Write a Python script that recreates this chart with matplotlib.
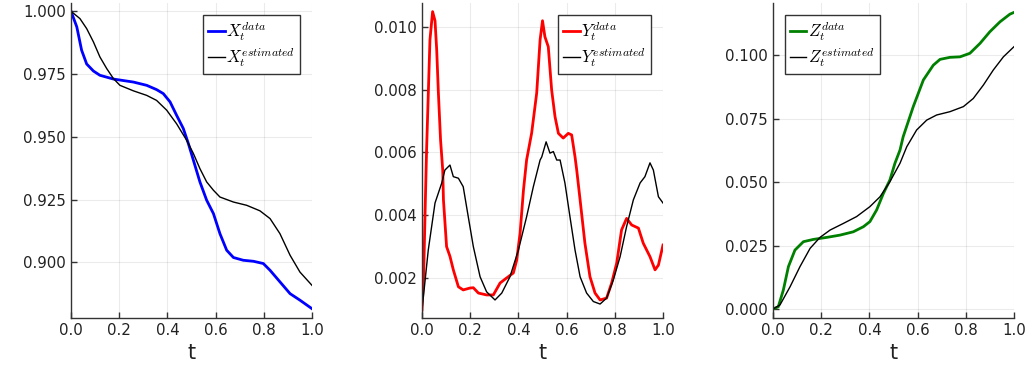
import matplotlib
matplotlib.use("Agg")
import matplotlib.pyplot as plt
from matplotlib.ticker import FormatStrFormatter

plt.rcParams["mathtext.fontset"] = "cm"

# X panel
x_t_data = [0.0, 0.024, 0.044, 0.065, 0.093, 0.12, 0.176, 0.259, 0.314, 0.355, 0.383,
            0.411, 0.438, 0.466, 0.487, 0.508, 0.535, 0.563, 0.591, 0.618, 0.646, 0.674,
            0.715, 0.757, 0.798, 0.826, 0.867, 0.909, 0.95, 1.0]
x_data = [1.0, 0.9938, 0.9845, 0.979, 0.9762, 0.9745, 0.973, 0.9718, 0.9705, 0.9688, 0.9672,
          0.9639, 0.9586, 0.9533, 0.9473, 0.9406, 0.932, 0.9247, 0.9194, 0.9114, 0.9048, 0.9019,
          0.9008, 0.9004, 0.8995, 0.8968, 0.8922, 0.8875, 0.8849, 0.8815]
x_t_est = [0.0, 0.037, 0.065, 0.093, 0.12, 0.148, 0.176, 0.203, 0.259, 0.314, 0.355, 0.397,
           0.438, 0.48, 0.508, 0.535, 0.563, 0.591, 0.618, 0.674, 0.729, 0.784, 0.826, 0.867,
           0.909, 0.95, 1.0]
x_est = [1.0, 0.9971, 0.9931, 0.9878, 0.9818, 0.9772, 0.9732, 0.9705, 0.9683, 0.9665, 0.9645,
         0.9606, 0.9552, 0.9486, 0.9433, 0.9373, 0.932, 0.9287, 0.926, 0.924, 0.9227, 0.9205,
         0.9174, 0.9114, 0.9028, 0.8961, 0.8908]

# Y panel
y_t_data = [0.0, 0.007, 0.014, 0.019, 0.033, 0.044, 0.054, 0.061, 0.068, 0.077, 0.086, 0.089,
            0.102, 0.116, 0.13, 0.151, 0.171, 0.199, 0.213, 0.234, 0.268, 0.296, 0.324, 0.351,
            0.379, 0.393, 0.407, 0.421, 0.434, 0.455, 0.476, 0.49, 0.5, 0.51, 0.524, 0.538,
            0.552, 0.566, 0.586, 0.607, 0.621, 0.635, 0.642, 0.656, 0.676, 0.697, 0.718, 0.739,
            0.766, 0.787, 0.808, 0.828, 0.849, 0.87, 0.898, 0.918, 0.946, 0.967, 0.981, 1.0]
y_data = [0.00098, 0.00214, 0.00448, 0.00608, 0.00959, 0.01049, 0.0102, 0.00927, 0.0079, 0.0064,
          0.00544, 0.00449, 0.003, 0.00269, 0.00226, 0.00172, 0.00162, 0.00168, 0.00169, 0.00152,
          0.00146, 0.00146, 0.00184, 0.002, 0.00216, 0.00257, 0.00343, 0.0048, 0.00576, 0.00662,
          0.0079, 0.00959, 0.0102, 0.00969, 0.00937, 0.00799, 0.00714, 0.00661, 0.00646, 0.00661,
          0.00656, 0.00586, 0.00544, 0.00449, 0.00311, 0.00204, 0.00152, 0.0013, 0.00136, 0.00184,
          0.00248, 0.00353, 0.0039, 0.00369, 0.00359, 0.00311, 0.00268, 0.00226, 0.00241, 0.00305]
y_t_est = [0.0, 0.026, 0.054, 0.082, 0.095, 0.116, 0.13, 0.151, 0.171, 0.192, 0.213, 0.241,
           0.268, 0.303, 0.331, 0.365, 0.4, 0.434, 0.462, 0.49, 0.497, 0.515, 0.531, 0.545,
           0.559, 0.573, 0.593, 0.614, 0.635, 0.656, 0.683, 0.711, 0.739, 0.766, 0.794, 0.822,
           0.849, 0.877, 0.905, 0.925, 0.946, 0.96, 0.981, 1.0]
y_est = [0.00098, 0.00289, 0.00439, 0.00503, 0.00544, 0.0056, 0.00523, 0.00518, 0.00491, 0.00395,
         0.003, 0.00204, 0.00156, 0.0013, 0.00152, 0.00204, 0.00289, 0.00395, 0.00491, 0.00576,
         0.00586, 0.00634, 0.00598, 0.00603, 0.00576, 0.00576, 0.00503, 0.00395, 0.00289, 0.00204,
         0.00152, 0.00125, 0.00117, 0.00136, 0.00194, 0.00268, 0.00364, 0.00449, 0.00503, 0.00523,
         0.00567, 0.00544, 0.00459, 0.00439]

# Z panel
z_t_data = [0.0, 0.022, 0.043, 0.064, 0.091, 0.126, 0.167, 0.223, 0.278, 0.333, 0.375, 0.402,
            0.43, 0.458, 0.485, 0.506, 0.527, 0.54, 0.582, 0.624, 0.665, 0.693, 0.734, 0.776,
            0.817, 0.859, 0.9, 0.942, 0.983, 1.0]
z_data = [0.0, 0.0009, 0.0075, 0.0167, 0.0232, 0.0265, 0.0274, 0.0282, 0.0291, 0.0304, 0.0324,
          0.0344, 0.039, 0.0455, 0.0508, 0.0574, 0.0626, 0.0678, 0.0797, 0.0902, 0.096, 0.0983,
          0.0991, 0.0993, 0.1007, 0.1046, 0.1092, 0.1131, 0.1161, 0.1168]
z_t_est = [0.0, 0.029, 0.071, 0.112, 0.154, 0.195, 0.237, 0.292, 0.347, 0.402, 0.444, 0.485,
           0.527, 0.555, 0.596, 0.638, 0.679, 0.734, 0.79, 0.831, 0.873, 0.914, 0.956, 1.0]
z_est = [0.0, 0.0016, 0.0088, 0.0167, 0.0239, 0.0282, 0.0311, 0.0337, 0.0364, 0.0403, 0.0442,
         0.0501, 0.0574, 0.0639, 0.0705, 0.0744, 0.0764, 0.0777, 0.0797, 0.0829, 0.0882, 0.0941,
         0.0993, 0.1033]

x_ticks = [0.0, 0.2, 0.4, 0.6, 0.8, 1.0]
panels = [
    (x_t_data, x_data, x_t_est, x_est, "blue", "X", (0.8778, 1.0033),
     [0.900, 0.925, 0.950, 0.975, 1.000], "upper right"),
    (y_t_data, y_data, y_t_est, y_est, "red", "Y", (0.000725, 0.010765),
     [0.002, 0.004, 0.006, 0.008, 0.010], "upper right"),
    (z_t_data, z_data, z_t_est, z_est, "green", "Z", (-0.00354, 0.1205),
     [0.000, 0.025, 0.050, 0.075, 0.100], "upper left"),
]
lefts = [71 / 1032, 422 / 1032, 773 / 1032]

fig = plt.figure(figsize=(10.32, 3.79), dpi=100)
for left, (td, d, te, e, color, name, ylim, yticks, loc) in zip(lefts, panels):
    ax = fig.add_axes([left, 61 / 379, 241 / 1032, 315 / 379])
    ax.plot(td, d, color=color, lw=2, label=rf"${name}_t^{{data}}$")
    ax.plot(te, e, color="black", lw=1, label=rf"${name}_t^{{estimated}}$")
    ax.set_xlim(0, 1)
    ax.set_ylim(*ylim)
    ax.set_xticks(x_ticks)
    ax.set_yticks(yticks)
    ax.xaxis.set_major_formatter(FormatStrFormatter("%.1f"))
    ax.yaxis.set_major_formatter(FormatStrFormatter("%.3f"))
    ax.grid(True, color="black", alpha=0.08, lw=0.8)
    for s in ("top", "right"):
        ax.spines[s].set_visible(False)
    for s in ("left", "bottom"):
        ax.spines[s].set_color("#333333")
        ax.spines[s].set_linewidth(1.0)
    ax.tick_params(direction="in", length=4, width=1, color="#333333",
                   labelsize=10.8, labelcolor="#222222")
    ax.set_xlabel("t", fontsize=15, color="#222222")
    leg = ax.legend(loc=loc, fontsize=12, handlelength=1.0, handletextpad=0.1,
                    borderaxespad=0.7, labelspacing=0.1, fancybox=False,
                    framealpha=1, edgecolor="#333333", borderpad=0.3)
    leg.get_frame().set_linewidth(1.0)

fig.savefig("out.png", dpi=100)
